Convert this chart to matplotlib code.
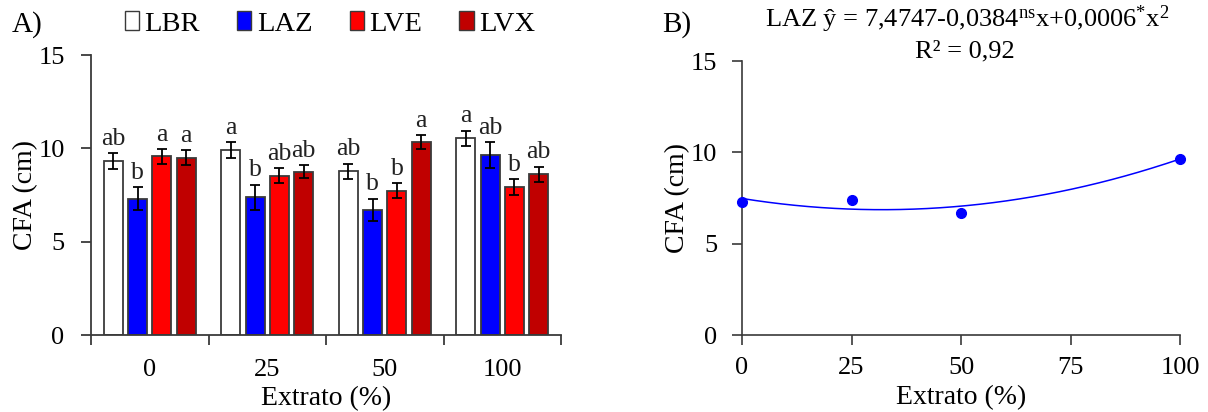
import numpy as np
import matplotlib
matplotlib.use("Agg")
import matplotlib.pyplot as plt
from matplotlib.patches import Patch

plt.rcParams['font.family'] = ['Liberation Serif', 'DejaVu Serif']
plt.rcParams['mathtext.fontset'] = 'custom'
plt.rcParams['mathtext.rm'] = 'Liberation Serif'
plt.rcParams['mathtext.it'] = 'Liberation Serif:italic'

# data
extrato = ['0', '25', '50', '100']
series = ['LBR', 'LAZ', 'LVE', 'LVX']
colors = ['#FFFFFF', '#0000FF', '#FF0000', '#C00000']

lbr = [9.33, 9.89, 8.77, 10.53]
laz = [7.30, 7.37, 6.70, 9.64]
lve = [9.57, 8.53, 7.73, 7.93]
lvx = [9.50, 8.75, 10.32, 8.61]

lbr_err = [0.42, 0.43, 0.40, 0.41]
laz_err = [0.63, 0.68, 0.60, 0.70]
lve_err = [0.40, 0.41, 0.40, 0.41]
lvx_err = [0.39, 0.34, 0.38, 0.41]

lbr_let = ['ab', 'a', 'ab', 'a']
laz_let = ['b', 'b', 'b', 'ab']
lve_let = ['a', 'ab', 'b', 'b']
lvx_let = ['a', 'ab', 'a', 'ab']

# panel B: LAZ regression
dose = [0, 25, 50, 100]
b0, b1, b2 = 7.4747, -0.0384, 0.0006

edge = '#3a3a3a'

fig = plt.figure(figsize=(12.08, 4.12), dpi=100)
ax1 = fig.add_axes([91 / 1208, 1 - 335 / 412, 470 / 1208, 280 / 412])
ax2 = fig.add_axes([742 / 1208, 1 - 335 / 412, 438 / 1208, 274 / 412])

# ---- panel A ----
x = np.arange(len(extrato))
step = 0.207
width = 0.163
vals = [lbr, laz, lve, lvx]
errs = [lbr_err, laz_err, lve_err, lvx_err]
lets = [lbr_let, laz_let, lve_let, lvx_let]
for i in range(4):
    pos = x + (i - 1.5) * step
    ax1.bar(pos, vals[i], width, color=colors[i], edgecolor=edge, linewidth=1.3,
            yerr=errs[i], capsize=3.5,
            error_kw=dict(ecolor='black', elinewidth=1.3, capthick=1.3))
    for p, v, e, t in zip(pos, vals[i], errs[i], lets[i]):
        ax1.annotate(t, (p, v + e), xytext=(0, 6), textcoords='offset points',
                     ha='center', va='baseline', fontsize=18.5, color='#222222')

ax1.set_xlim(-0.5, 3.5)
ax1.set_ylim(0, 15)
ax1.set_yticks([0, 5, 10, 15])
ax1.set_xticks(np.arange(-0.5, 4, 1))
ax1.set_xticklabels([])
ax1.set_xticks(x, minor=True)
ax1.set_xticklabels(extrato, minor=True)
ax1.tick_params(axis='x', which='minor', length=0, pad=17, labelsize=19)
ax1.tick_params(axis='x', which='major', length=7, width=1.3, color=edge)
ax1.tick_params(axis='y', length=7, width=1.3, color=edge, pad=12, labelsize=19)
ax1.set_xlabel('Extrato (%)', fontsize=20)
ax1.set_ylabel('CFA (cm)', fontsize=20)
ax1.xaxis.set_label_coords(0.5, -0.183)
ax1.yaxis.set_label_coords(-0.112, 0.5)
for s in ['top', 'right']:
    ax1.spines[s].set_visible(False)
for s in ['left', 'bottom']:
    ax1.spines[s].set_color(edge)
    ax1.spines[s].set_linewidth(1.3)

handles = [Patch(facecolor=c, edgecolor=edge, linewidth=1.0) for c in colors]
fig.legend(handles, series, ncol=4, loc='center', bbox_to_anchor=(330 / 1208, 1 - 24 / 412),
           frameon=False, fontsize=20.5, handlelength=0.5, handleheight=0.6,
           handletextpad=0.2, columnspacing=1.3, borderpad=0)

fig.text(12 / 1208, 1 - 25 / 412, 'A)', fontsize=21, va='center', ha='left')

# ---- panel B ----
xs = np.linspace(0, 100, 200)
ax2.plot(xs, b0 + b1 * xs + b2 * xs ** 2, color='#0000FF', linewidth=1.1)
ax2.plot(dose, laz, 'o', color='#0000FF', markersize=7, clip_on=False, zorder=5)
ax2.set_xlim(0, 100)
ax2.set_ylim(0, 15)
ax2.set_xticks([0, 25, 50, 75, 100])
ax2.set_yticks([0, 5, 10, 15])
ax2.tick_params(axis='x', length=7, width=1.2, color=edge, pad=9, labelsize=19)
ax2.tick_params(axis='y', length=7, width=1.2, color=edge, pad=11, labelsize=19)
ax2.set_xlabel('Extrato (%)', fontsize=20)
ax2.set_ylabel('CFA (cm)', fontsize=20)
ax2.xaxis.set_label_coords(0.5, -0.182)
ax2.yaxis.set_label_coords(-0.118, 0.5)
for s in ['top', 'right']:
    ax2.spines[s].set_visible(False)
for s in ['left', 'bottom']:
    ax2.spines[s].set_color(edge)
    ax2.spines[s].set_linewidth(1.2)

fig.text(662 / 1208, 1 - 25 / 412, 'B)', fontsize=21, va='center', ha='left')
fig.text(967 / 1208, 1 - 19 / 412,
         r'LAZ ŷ = 7,4747-0,0384$^{\mathrm{ns}}$x+0,0006$^{*}$x$^{2}$',
         fontsize=19, ha='center', va='center')
fig.text(965 / 1208, 1 - 51 / 412, 'R² = 0,92', fontsize=19, ha='center', va='center')

fig.savefig('out.png', dpi=100)
